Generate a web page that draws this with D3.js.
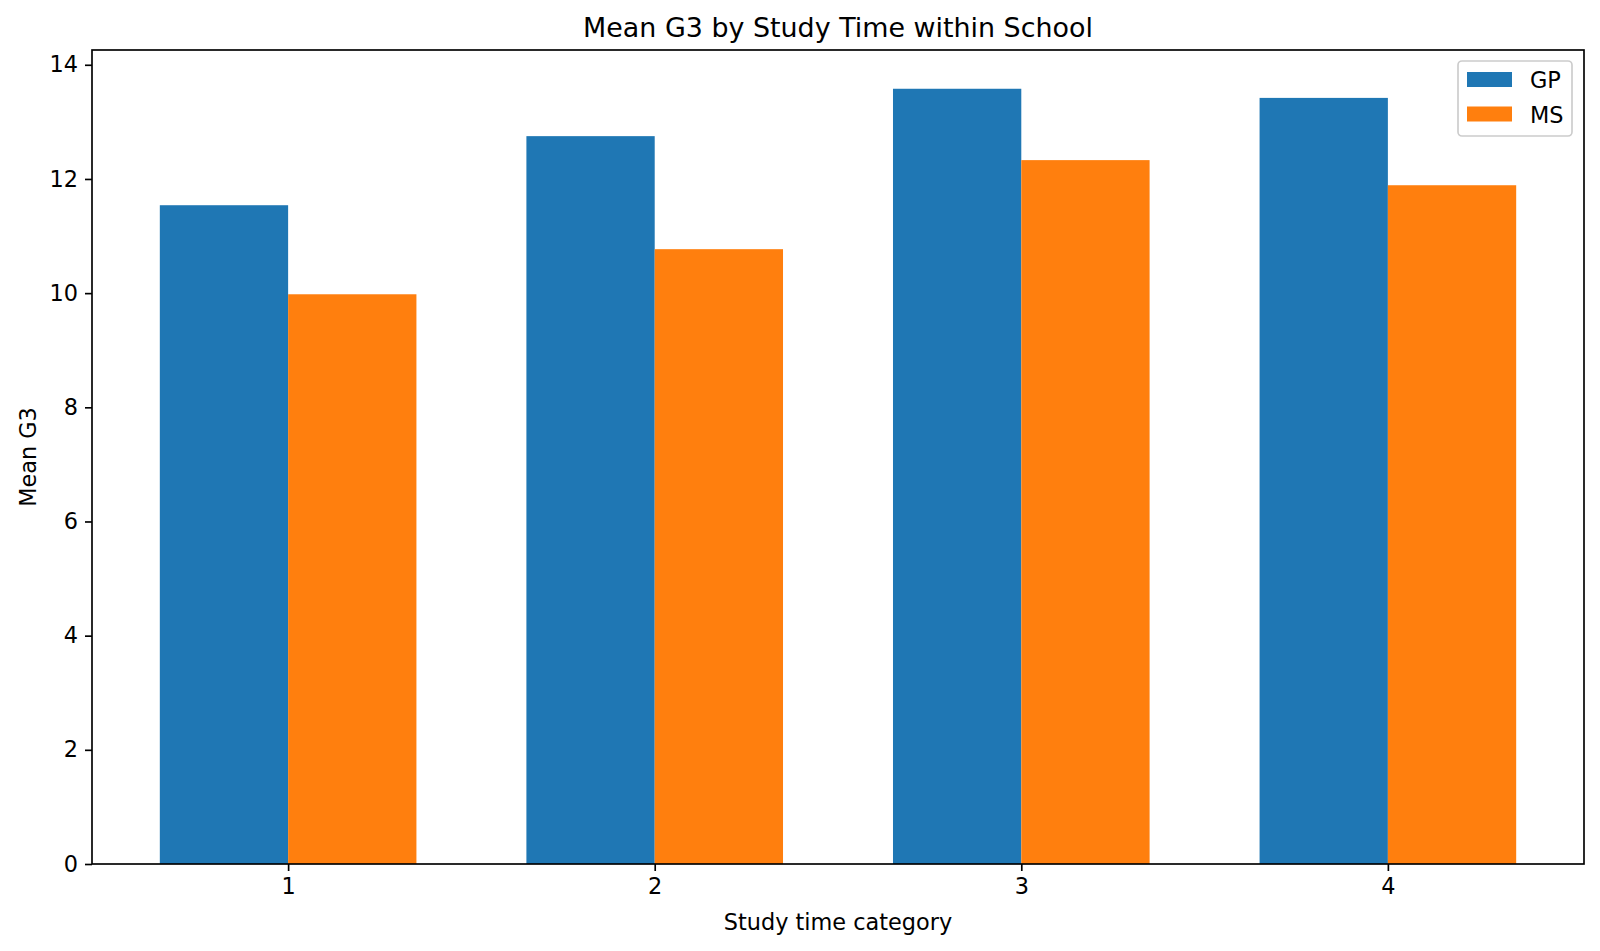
<!DOCTYPE html>
<html>
<head>
<meta charset="utf-8">
<script src="https://cdn.jsdelivr.net/npm/d3@7"></script>
<style>
  body { margin: 0; background: #fff; }
  svg { display: block; font-family: "DejaVu Sans", sans-serif; }
  .axis path, .axis line { stroke: #000; stroke-width: 1.67; }
</style>
</head>
<body>
<div id="chart"></div>
<script>
// Data
const categories = [1, 2, 3, 4];
const gpMeans = [11.54, 12.75, 13.58, 13.42];
const msMeans = [9.98, 10.77, 12.33, 11.89];
const seriesNames = ["GP", "MS"];
const yTicks = [0, 2, 4, 6, 8, 10, 12, 14];

const colors = ["#1f77b4", "#ff7f0e"];
const barWidth = 0.35;
const fontFamily = "DejaVu Sans, sans-serif";
const labelSize = "22.4px";

const W = 1600, H = 951;
const margin = { top: 50, right: 16, bottom: 87, left: 92 };
const width = W - margin.left - margin.right,
  height = H - margin.top - margin.bottom;

const svg = d3.select("#chart").append("svg")
  .attr("width", W)
  .attr("height", H);

const g = svg.append("g")
  .attr("transform", `translate(${margin.left},${margin.top})`);

// matplotlib-like 5% margins around the bar extent
const xMin = d3.min(categories) - barWidth, xMax = d3.max(categories) + barWidth;
const xPad = (xMax - xMin) * 0.05;
const x = d3.scaleLinear().domain([xMin - xPad, xMax + xPad]).range([0, width]);

const yMax = d3.max(gpMeans.concat(msMeans)) * 1.05;
const y = d3.scaleLinear().domain([0, yMax]).range([height, 0]);

// bars
const series = [gpMeans, msMeans];
series.forEach((vals, s) => {
  g.append("g").selectAll("rect")
    .data(categories)
    .enter()
    .append("rect")
    .attr("x", (d) => x(s === 0 ? d - barWidth : d))
    .attr("width", (d) => x(d + barWidth) - x(d))
    .attr("y", (d, i) => y(vals[i]))
    .attr("height", (d, i) => y(0) - y(vals[i]))
    .attr("fill", colors[s]);
});

// axes
const xAxis = g.append("g")
  .attr("class", "axis")
  .attr("transform", `translate(0,${height})`)
  .call(d3.axisBottom(x).tickValues(categories).tickFormat(d3.format("d"))
    .tickSize(7).tickPadding(7).tickSizeOuter(0));
xAxis.select(".domain").remove();

const yAxis = g.append("g")
  .attr("class", "axis")
  .call(d3.axisLeft(y).tickValues(yTicks).tickSize(7).tickPadding(7).tickSizeOuter(0));
yAxis.select(".domain").remove();

[xAxis, yAxis].forEach((a) => {
  a.attr("font-family", fontFamily).attr("font-size", null);
  a.selectAll("text").style("font-size", labelSize).attr("fill", "#000");
});

// box around the plot
g.append("rect")
  .attr("x", 0)
  .attr("y", 0)
  .attr("width", width)
  .attr("height", height)
  .attr("fill", "none")
  .attr("stroke", "#000")
  .attr("stroke-width", 1.67);

// title & labels
svg.append("text")
  .attr("x", margin.left + width / 2)
  .attr("y", 37)
  .attr("text-anchor", "middle")
  .style("font-size", "26.9px")
  .text("Mean G3 by Study Time within School");

svg.append("text")
  .attr("x", margin.left + width / 2)
  .attr("y", 930)
  .attr("text-anchor", "middle")
  .style("font-size", labelSize)
  .text("Study time category");

svg.append("text")
  .attr("transform", `translate(36,${margin.top + height / 2}) rotate(-90)`)
  .attr("text-anchor", "middle")
  .style("font-size", labelSize)
  .text("Mean G3");

// legend
const legend = svg.append("g").attr("transform", "translate(1458,61)");
legend.append("rect")
  .attr("width", 114)
  .attr("height", 75)
  .attr("rx", 4)
  .attr("fill", "#fff")
  .attr("fill-opacity", 0.8)
  .attr("stroke", "#cccccc")
  .attr("stroke-width", 1.67);

const items = legend.selectAll(".item")
  .data(seriesNames)
  .enter()
  .append("g")
  .attr("transform", (d, i) => `translate(9,${11 + i * 34.5})`);

items.append("rect")
  .attr("width", 45)
  .attr("height", 15)
  .attr("fill", (d, i) => colors[i]);

items.append("text")
  .attr("x", 63)
  .attr("y", 16)
  .style("font-size", labelSize)
  .text((d) => d);
</script>
</body>
</html>
